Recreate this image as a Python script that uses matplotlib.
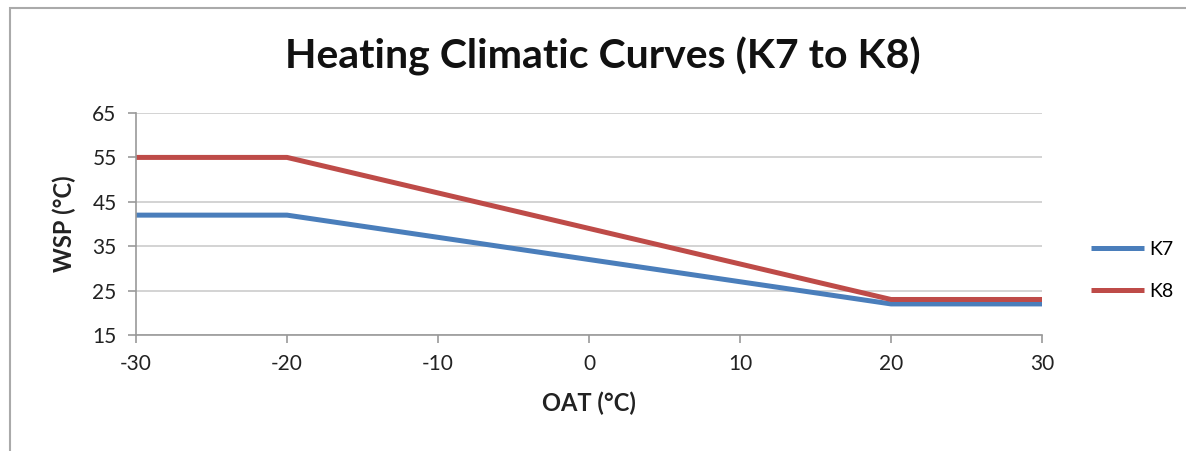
import matplotlib
matplotlib.use('Agg')
import matplotlib.pyplot as plt
import matplotlib.patches as mpatches

oat = [-30, -20, 20, 30]
k7 = [42, 42, 22, 22]
k8 = [55, 55, 23, 23]
x_ticks = [-30, -20, -10, 0, 10, 20, 30]
y_ticks = [15, 25, 35, 45, 55, 65]

plt.rcParams['font.family'] = ['Lato', 'DejaVu Sans']
plt.rcParams['axes.unicode_minus'] = False

fig = plt.figure(figsize=(11.86, 4.51), dpi=100)
ax = fig.add_axes([0.1147, 0.2572, 0.7639, 0.4922])

ax.plot(oat, k7, color='#4a7ebb', lw=3.6, label='K7', solid_capstyle='butt')
ax.plot(oat, k8, color='#be4b48', lw=3.6, label='K8', solid_capstyle='butt')

ax.set_xlim(-30, 30)
ax.set_ylim(15, 65)
ax.set_xticks(x_ticks)
ax.set_yticks(y_ticks)
ax.tick_params(labelsize=15, labelcolor='#222222', length=6, width=1.2, direction='out', pad=8)
ax.tick_params(axis='both', color='#999999')
for s in ['top', 'right']:
    ax.spines[s].set_visible(False)
for s in ['left', 'bottom']:
    ax.spines[s].set_color('#999999')
    ax.spines[s].set_linewidth(1.2)
ax.yaxis.grid(True, color='#cccccc', lw=1.2)
ax.set_axisbelow(True)

ax.set_xlabel('OAT (°C)', fontsize=17, fontweight='bold', color='#222222', labelpad=12)
ax.set_ylabel('WSP (°C)', fontsize=17, fontweight='bold', color='#222222', labelpad=12)
fig.text(0.508, 0.875, 'Heating Climatic Curves (K7 to K8)', ha='center', va='center',
         fontsize=29.5, fontweight='bold', color='#111111')

ax.legend(loc='center left', bbox_to_anchor=(1.035, 0.29), frameon=False, fontsize=14,
          handlelength=2.7, labelspacing=1.3, handletextpad=0.3)

fig.patches.append(mpatches.Rectangle((0.0085, -0.1), 1.2, 1.082, transform=fig.transFigure,
                                      fill=False, edgecolor='#aaaaaa', lw=1.5))

fig.savefig('out.png', dpi=100)
